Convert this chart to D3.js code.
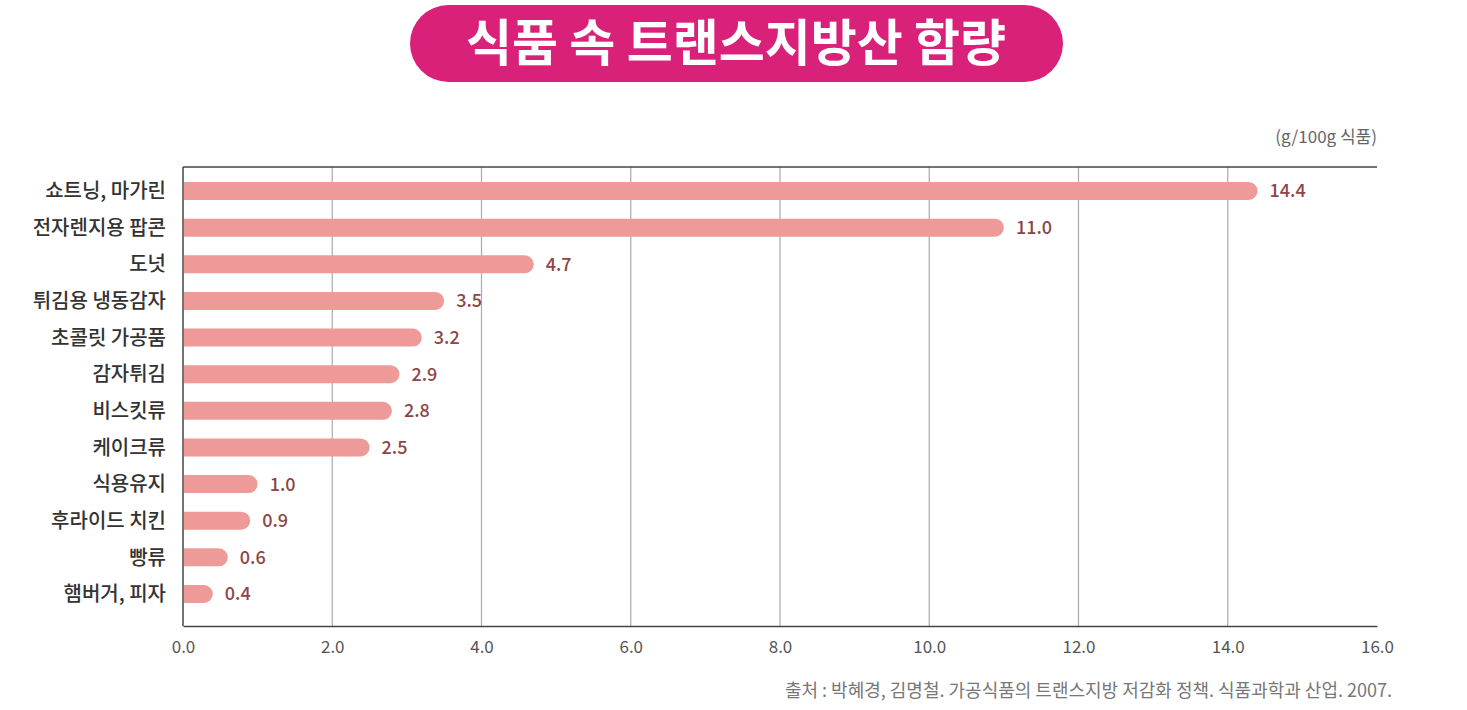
<!DOCTYPE html>
<html>
<head>
<meta charset="utf-8">
<script src="https://cdn.jsdelivr.net/npm/d3@7/dist/d3.min.js"></script>
<style>
    body { margin: 0; background: #fff; }
    svg { font-family: "Noto Sans CJK KR", "Noto Sans", sans-serif; }
</style>
</head>
<body>
<svg></svg>
<script>
// Chart data
var foods = ['쇼트닝, 마가린', '전자렌지용 팝콘', '도넛', '튀김용 냉동감자', '초콜릿 가공품',
    '감자튀김', '비스킷류', '케이크류', '식용유지', '후라이드 치킨', '빵류', '햄버거, 피자'];
var transFat = [14.4, 11.0, 4.7, 3.5, 3.2, 2.9, 2.8, 2.5, 1.0, 0.9, 0.6, 0.4];
var xTicks = [0, 2, 4, 6, 8, 10, 12, 14, 16];
var titleText = '식품 속 트랜스지방산 함량';
var unitText = '(g/100g 식품)';
var sourceText = '출처 : 박혜경, 김명철. 가공식품의 트랜스지방 저감화 정책. 식품과학과 산업. 2007.';

var data = foods.map(function(f, i) {
    return { food: f, value: transFat[i] };
});

var width = 1467, height = 710;
var plot = { left: 183, right: 1377, top: 167, bottom: 626 };

var svg = d3.select('svg')
    .attr('width', width)
    .attr('height', height);

// Title pill
svg.append('rect')
    .attr('x', 410).attr('y', 5)
    .attr('width', 653).attr('height', 77)
    .attr('rx', 38.5)
    .attr('fill', '#d9217a');

svg.append('text')
    .attr('x', 736).attr('y', 61)
    .attr('text-anchor', 'middle')
    .attr('fill', '#fff')
    .attr('font-size', 50)
    .attr('font-weight', 700)
    .text(titleText);

var xScale = d3.scaleLinear()
    .domain([0, 16])
    .range([plot.left, plot.right]);

var yScale = d3.scalePoint()
    .domain(foods)
    .range([191, 594]);

var barH = 18;

// Grid lines
svg.selectAll('.grid')
    .data(xTicks.slice(1, -1))
    .enter()
    .append('line')
    .attr('x1', function(d) { return xScale(d); })
    .attr('x2', function(d) { return xScale(d); })
    .attr('y1', plot.top)
    .attr('y2', plot.bottom)
    .attr('stroke', '#aaa')
    .attr('stroke-width', 1.2);

// Top and bottom rules, left axis
svg.append('line')
    .attr('x1', plot.left).attr('x2', plot.right)
    .attr('y1', plot.top).attr('y2', plot.top)
    .attr('stroke', '#444').attr('stroke-width', 1.5);

var xAxis = svg.append('g')
    .attr('transform', 'translate(0,' + plot.bottom + ')')
    .call(d3.axisBottom(xScale)
        .tickValues(xTicks)
        .tickSize(0)
        .tickPadding(15)
        .tickFormat(d3.format('.1f')));
xAxis.select('.domain').attr('stroke', '#444').attr('stroke-width', 1.5);
xAxis.selectAll('text')
    .attr('font-size', 17)
    .attr('fill', '#555')
    .attr('font-family', '"Noto Sans CJK KR", "Noto Sans", sans-serif');

svg.append('line')
    .attr('x1', plot.left).attr('x2', plot.left)
    .attr('y1', plot.top).attr('y2', plot.bottom)
    .attr('stroke', '#444').attr('stroke-width', 1.5);

// Bars with a rounded right end
function barPath(d) {
    var x0 = plot.left + 1, x1 = xScale(d.value);
    var y0 = yScale(d.food) - barH / 2, r = barH / 2;
    var p = d3.path();
    p.moveTo(x0, y0);
    p.lineTo(x1 - r, y0);
    p.arc(x1 - r, y0 + r, r, -Math.PI / 2, Math.PI / 2);
    p.lineTo(x0, y0 + barH);
    p.closePath();
    return p.toString();
}

var rows = svg.selectAll('.row')
    .data(data)
    .enter()
    .append('g')
    .classed('row', true);

rows.append('path')
    .attr('d', barPath)
    .attr('fill', '#ed9a98');

rows.append('text')
    .attr('x', function(d) { return xScale(d.value) + 12; })
    .attr('y', function(d) { return yScale(d.food); })
    .attr('dy', '0.36em')
    .attr('font-size', 18)
    .attr('font-weight', 500)
    .attr('fill', '#8c4646')
    .text(function(d) { return d.value.toFixed(1); });

rows.append('text')
    .attr('x', 166)
    .attr('y', function(d) { return yScale(d.food); })
    .attr('dy', '0.36em')
    .attr('text-anchor', 'end')
    .attr('font-size', 20)
    .attr('font-weight', 500)
    .attr('fill', '#333')
    .text(function(d) { return d.food; });

// Unit and source
svg.append('text')
    .attr('x', plot.right).attr('y', 143)
    .attr('text-anchor', 'end')
    .attr('font-size', 17)
    .attr('fill', '#666')
    .text(unitText);

svg.append('text')
    .attr('x', 1392).attr('y', 697)
    .attr('text-anchor', 'end')
    .attr('font-size', 18)
    .attr('fill', '#777')
    .text(sourceText);
</script>
</body>
</html>
